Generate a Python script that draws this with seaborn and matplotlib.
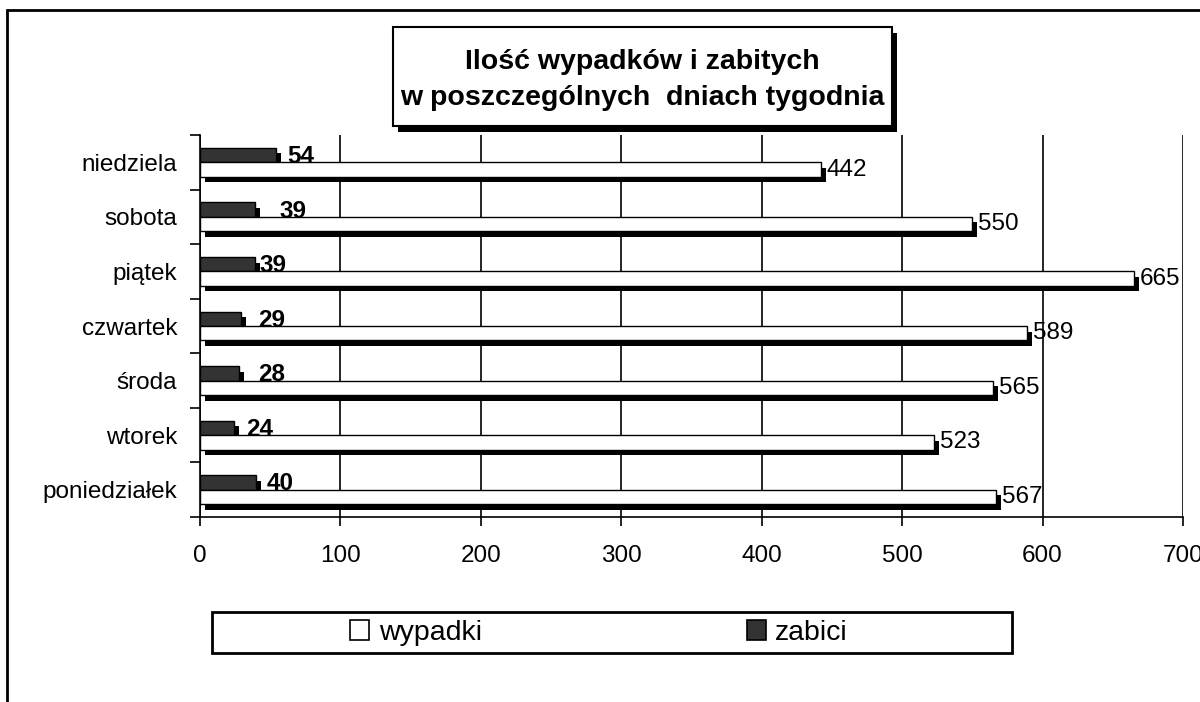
import numpy as np
import pandas as pd
import seaborn as sns
import matplotlib.pyplot as plt
from matplotlib.patches import Patch, Rectangle
from matplotlib import patheffects

# dane
dni = ['niedziela', 'sobota', 'piątek', 'czwartek', 'środa', 'wtorek', 'poniedziałek']
wypadki = [442, 550, 665, 589, 565, 523, 567]
zabici = [54, 39, 39, 29, 28, 24, 40]

df = pd.DataFrame({
    'dzien': dni * 2,
    'seria': ['zabici'] * len(dni) + ['wypadki'] * len(dni),
    'wartosc': zabici + wypadki,
})

sns.set_theme(style="white")
plt.rcParams['font.family'] = ['Liberation Sans', 'DejaVu Sans']
plt.rcParams['text.color'] = 'black'
plt.rcParams['xtick.color'] = 'black'
plt.rcParams['ytick.color'] = 'black'

W, H = 1200, 702
fig = plt.figure(figsize=(12, 7.02), dpi=100)

def fx(x):
    return x / W

def fy(y):
    return 1 - y / H

ax = fig.add_axes([fx(200), fy(517), (1183 - 200) / W, (517 - 135) / H])

cien = [patheffects.withSimplePatchShadow(offset=(3.6, -4), shadow_rgbFace='black', alpha=1.0)]

sns.barplot(
    data=df, y='dzien', x='wartosc', hue='seria',
    order=dni, hue_order=['zabici', 'wypadki'],
    palette={'zabici': '#333333', 'wypadki': 'white'},
    edgecolor='black', linewidth=1, width=0.53, saturation=1,
    errorbar=None, orient='h', legend=False, ax=ax,
)
for cont in ax.containers:
    for p in cont:
        p.set_path_effects(cien)

# etykiety wartości
pad_zabici = [11, 25, 5, 17, 18.5, 12.5, 10]  # px od końca słupka
for p, v, pad in zip(ax.containers[0], zabici, pad_zabici):
    ax.annotate(str(v), (p.get_x() + p.get_width(), p.get_y() + p.get_height() / 2),
                xytext=(pad / 1.389, -1), textcoords='offset points', color='black',
                ha='left', va='center', fontsize=17.5, fontweight='bold')
for p, v in zip(ax.containers[1], wypadki):
    ax.annotate(str(v), (p.get_x() + p.get_width(), p.get_y() + p.get_height() / 2),
                xytext=(4.0, 0), textcoords='offset points', color='black',
                ha='left', va='center', fontsize=17.5)

ax.set_xlim(0, 700)
ax.set_ylim(6.5, -0.5)
ax.set_xticks(range(0, 701, 100))
ax.set_yticks(range(len(dni)))
ax.set_yticklabels(dni)
ax.set_yticks(np.arange(-0.5, len(dni), 1), minor=True)
ax.set_xlabel('')
ax.set_ylabel('')

ax.grid(axis='x', color='black', linewidth=1.2)
ax.grid(axis='y', visible=False)
ax.set_axisbelow(True)
for s in ['top', 'right']:
    ax.spines[s].set_visible(False)
for s in ['left', 'bottom']:
    ax.spines[s].set_color('black')
    ax.spines[s].set_linewidth(1.2)

ax.tick_params(axis='y', which='major', length=0, pad=16.5, labelsize=17.5, labelcolor='black')
ax.tick_params(axis='y', which='minor', left=True, length=7, width=1.2, direction='out', color='black')
ax.tick_params(axis='x', which='major', bottom=True, length=6.5, width=1.2, direction='out',
               color='black', pad=14, labelsize=17.5, labelcolor='black')

# ramka wykresu
fig.patches.append(Rectangle((fx(7), fy(H + 20)), 1.1, fy(10) - fy(H + 20),
                             transform=fig.transFigure, fill=False,
                             edgecolor='black', linewidth=2, zorder=0))

# tytuł w ramce z cieniem
tbox = Rectangle((fx(393), fy(126)), fx(892) - fx(393), fy(27) - fy(126),
                 transform=fig.transFigure, facecolor='white', edgecolor='black',
                 linewidth=1.5, zorder=5)
tbox.set_path_effects([patheffects.withSimplePatchShadow(offset=(3.6, -4), shadow_rgbFace='black', alpha=1.0)])
fig.patches.append(tbox)
fig.text(fx(642.5), fy(80), 'Ilość wypadków i zabitych\nw poszczególnych  dniach tygodnia',
         ha='center', va='center', fontsize=20.5, fontweight='bold', color='black',
         linespacing=1.5, zorder=6)

# legenda
fig.patches.append(Rectangle((fx(212), fy(653)), fx(1012) - fx(212), fy(612) - fy(653),
                             transform=fig.transFigure, facecolor='white', edgecolor='black',
                             linewidth=2, zorder=5))
uchwyty = [Patch(facecolor='white', edgecolor='black', linewidth=1.2),
           Patch(facecolor='#333333', edgecolor='black', linewidth=1.2)]
leg = fig.legend(uchwyty, ['wypadki', 'zabici'], loc='center', ncol=2,
                 bbox_to_anchor=(fx(599), fy(633)), frameon=False, fontsize=20.5,
                 handlelength=0.67, handleheight=0.67, handletextpad=0.33,
                 columnspacing=9.3, labelcolor='black')
leg.set_zorder(7)

fig.savefig('out.png', dpi=100)
